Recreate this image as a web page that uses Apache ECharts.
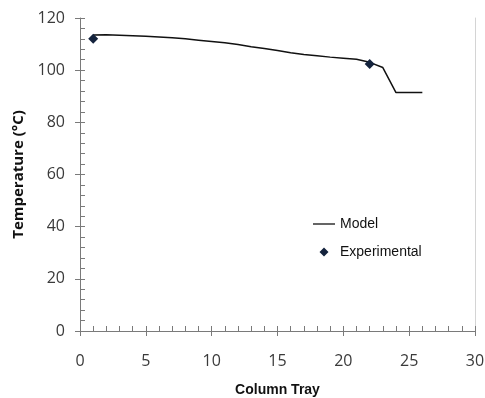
<!DOCTYPE html>
<html>
<head>
<meta charset="utf-8">
<script src="https://cdn.jsdelivr.net/npm/echarts@6/dist/echarts.min.js"></script>
<style>
  html, body { margin: 0; padding: 0; background: #fff; }
  #chart { width: 485px; height: 398px; }
</style>
</head>
<body>
<div id="chart"></div>
<script>
// Model profile, trays 1..26
const modelTrays = [1, 2, 3, 4, 5, 6, 7, 8, 9, 10, 11, 12, 13, 14, 15, 16, 17, 18, 19, 20, 21, 22, 23, 24, 25, 26];
const modelTemps = [113.5, 113.6, 113.4, 113.2, 113.0, 112.7, 112.4, 112.0, 111.5, 111.0, 110.5, 109.8, 109.0, 108.3,
  107.5, 106.7, 106.0, 105.5, 105.0, 104.6, 104.2, 103.0, 101.0, 91.4, 91.4, 91.4];

// Measured points
const expTrays = [1, 22];
const expTemps = [112, 102.4];

const chart = echarts.init(document.getElementById('chart'));

const axisGray = '#7a7a7a';
const labelFont = { fontFamily: 'Open Sans', fontSize: 16, color: '#3a3a3a' };

// ticks crossing the axis: outside part on the main axis,
// inside part (with minor ticks) on an overlaid helper axis
const xBase = { type: 'value', min: 0, max: 30, interval: 5, splitLine: { show: false } };
const yBase = { type: 'value', min: 0, max: 120, interval: 20, splitLine: { show: false } };

const option = {
  animation: false,
  grid: { left: 80, right: 10, top: 18, bottom: 67, outerBoundsMode: 'none' },
  legend: {
    orient: 'vertical',
    left: 308,
    top: 212,
    itemGap: 14,
    itemWidth: 22,
    itemHeight: 10,
    textStyle: { fontFamily: 'Liberation Sans', fontSize: 14, color: '#111' },
    data: [
      { name: 'Model', icon: 'path://M0,5 L22,5 L22,6.3 L0,6.3 Z' },
      { name: 'Experimental', icon: 'path://M0,0 L0,0 Z M11,0.5 L15.5,5 L11,9.5 L6.5,5 Z M22,10 L22,10 Z' }
    ]
  },
  xAxis: [
    Object.assign({}, xBase, {
      name: 'Column Tray',
      nameLocation: 'middle',
      nameGap: 52,
      nameTextStyle: { fontFamily: 'Liberation Sans', fontWeight: 'bold', fontSize: 14, color: '#111' },
      axisLine: { lineStyle: { color: axisGray, width: 1 } },
      axisTick: { show: true, inside: false, length: 5, lineStyle: { color: axisGray } },
      axisLabel: Object.assign({ margin: 22 }, labelFont)
    }),
    Object.assign({}, xBase, {
      position: 'bottom',
      axisLine: { show: false },
      axisTick: { show: true, inside: true, length: 5, lineStyle: { color: axisGray } },
      minorTick: { show: true, splitNumber: 5, length: 5, lineStyle: { color: axisGray } },
      axisLabel: { show: false }
    })
  ],
  yAxis: [
    Object.assign({}, yBase, {
      name: 'Temperature (°C)',
      nameLocation: 'middle',
      nameGap: 50,
      nameTextStyle: { fontFamily: 'Open Sans', fontWeight: 'bold', fontSize: 15, color: '#111' },
      axisLine: { show: true, lineStyle: { color: axisGray, width: 1 } },
      axisTick: { show: true, inside: false, length: 5, lineStyle: { color: axisGray } },
      axisLabel: Object.assign({ margin: 15 }, labelFont)
    }),
    Object.assign({}, yBase, {
      position: 'left',
      axisLine: { show: false },
      axisTick: { show: true, inside: true, length: 5, lineStyle: { color: axisGray } },
      minorTick: { show: true, splitNumber: 5, length: 5, lineStyle: { color: axisGray } },
      axisLabel: { show: false }
    }),
    // light right-hand frame of the plot area
    Object.assign({}, yBase, {
      position: 'right',
      axisLine: { show: true, lineStyle: { color: '#d4d4d4', width: 1 } },
      axisTick: { show: false },
      axisLabel: { show: false }
    })
  ],
  series: [
    {
      name: 'Model',
      type: 'line',
      xAxisIndex: 0,
      yAxisIndex: 0,
      symbol: 'none',
      lineStyle: { color: '#111', width: 1.5 },
      itemStyle: { color: '#111' },
      data: modelTrays.map((t, i) => [t, modelTemps[i]]),
      z: 2
    },
    {
      name: 'Experimental',
      type: 'scatter',
      xAxisIndex: 0,
      yAxisIndex: 0,
      symbol: 'diamond',
      symbolSize: 10,
      itemStyle: { color: '#14233d', opacity: 1 },
      data: expTrays.map((t, i) => [t, expTemps[i]]),
      z: 3
    }
  ]
};

chart.setOption(option);
</script>
</body>
</html>
